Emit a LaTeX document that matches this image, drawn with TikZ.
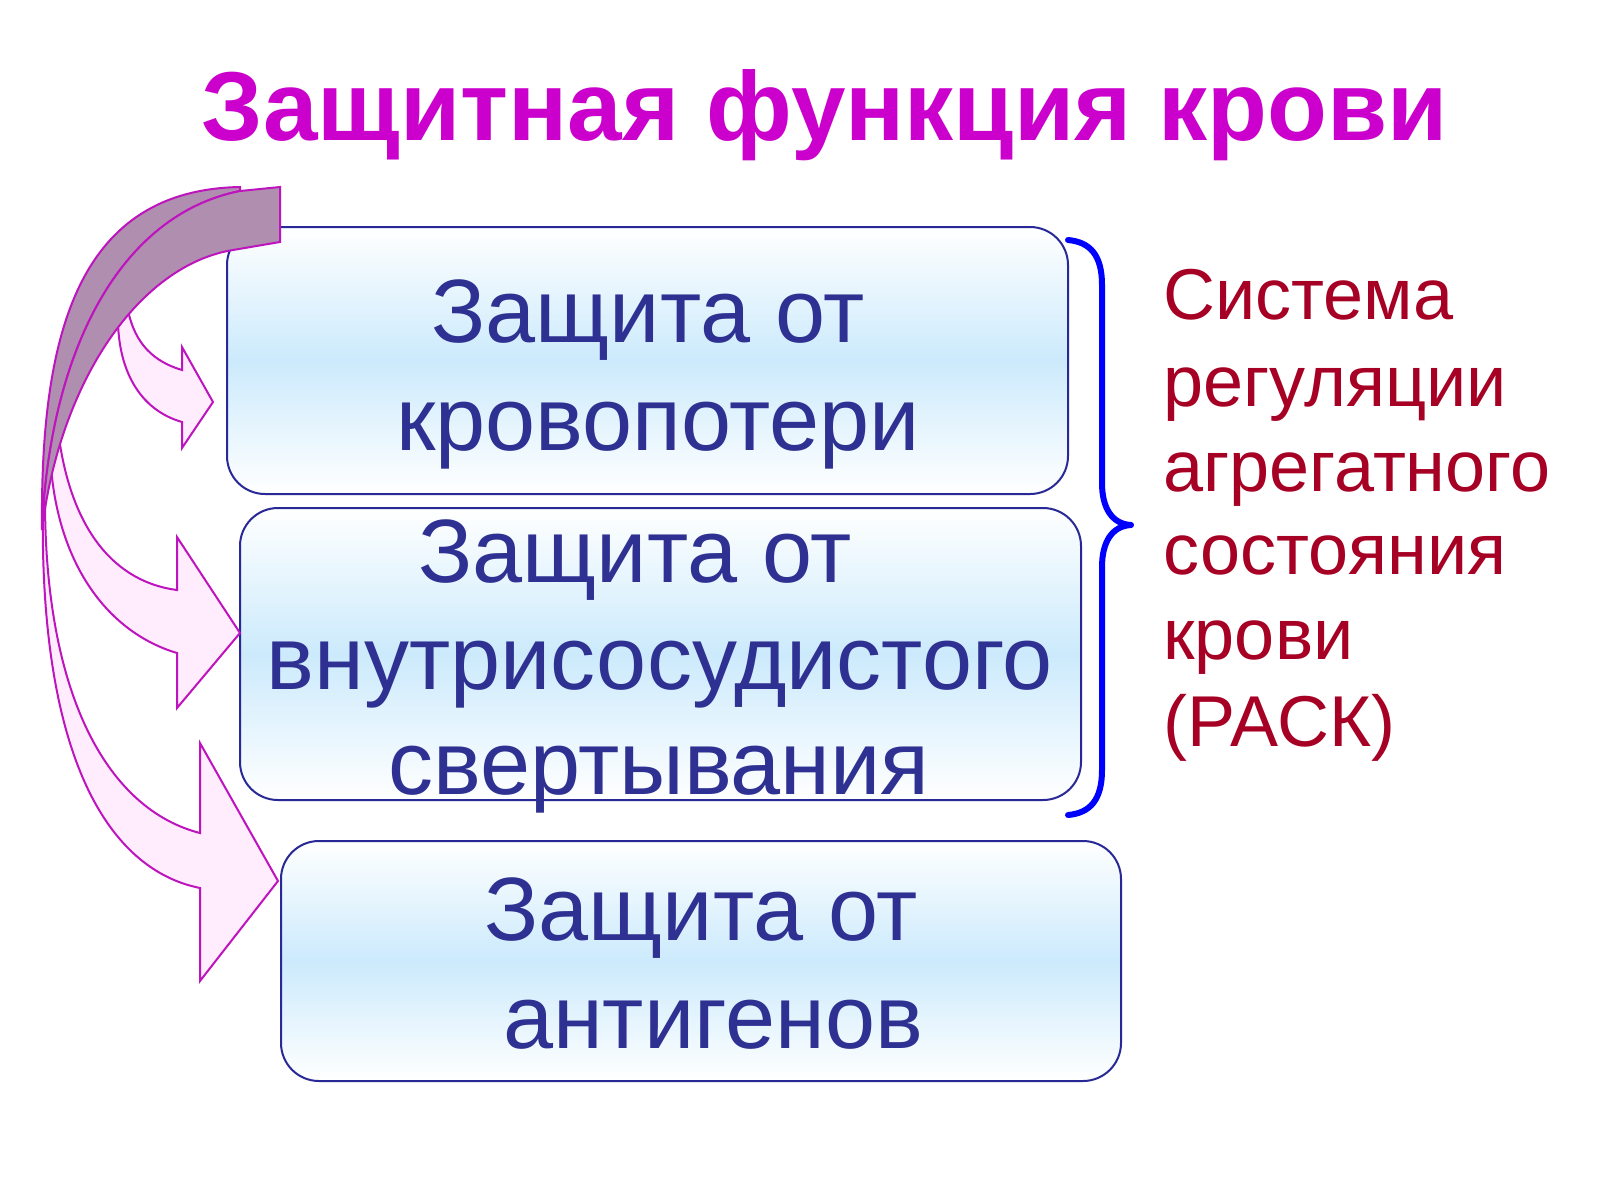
\documentclass[tikz,border=0pt]{standalone}
\usepackage{fontspec}
\setmainfont{Liberation Sans}
\definecolor{titlemag}{RGB}{204,0,204}
\definecolor{boxtext}{RGB}{46,49,146}
\definecolor{boxline}{RGB}{40,40,150}
\definecolor{boxblue}{RGB}{204,234,252}
\definecolor{sidered}{RGB}{166,0,36}
\definecolor{bracecol}{RGB}{0,0,255}
\definecolor{arrline}{RGB}{190,20,190}
\definecolor{arrpink}{RGB}{255,236,252}
\definecolor{arrgray}{RGB}{176,142,176}
\begin{document}
\begin{tikzpicture}[x=0.5pt,y=-0.5pt,
  box/.style={draw=boxline, line width=1pt, rounded corners=19pt,
    top color=white, bottom color=white, middle color=boxblue,
    inner sep=0pt},
  boxtxt/.style={anchor=base, inner sep=0pt, text=boxtext, font=\fontsize{45pt}{50pt}\selectfont},
  sidetxt/.style={anchor=base west, inner sep=0pt, text=sidered, font=\fontsize{36pt}{40pt}\selectfont},
  pinkarrow/.style={draw=arrline, fill=arrpink, line width=1pt, line join=miter},
  grayband/.style={draw=arrline, fill=arrgray, line width=1pt, line join=miter}]
\useasboundingbox (0,0) rectangle (1600,1200);
\fill[white] (0,0) rectangle (1600,1200);

% boxes
\node[box, minimum width=420.5pt, minimum height=133.5pt] (b1) at (647.5,360.5) {};
\node[box, minimum width=420.5pt, minimum height=146pt] (b2) at (660.5,654) {};
\node[box, minimum width=420pt, minimum height=120pt] (b3) at (701,961) {};

% box texts
\node[boxtxt] (t11) at (648,342) {Защита от};
\node[boxtxt] (t12) at (658,450) {кровопотери};
\node[boxtxt] (t21) at (635,582) {Защита от};
\node[boxtxt] (t22) at (660,689) {внутрисосудистого};
\node[boxtxt] (t23) at (659,794) {свертывания};
\node[boxtxt] (t31) at (701,940) {Защита от};
\node[boxtxt] (t32) at (713,1048) {антигенов};

% curved arrows, front parts
\filldraw[pinkarrow] (43,500) .. controls (38,760) and (110,870) .. (200,888)
  -- (200,981) -- (278,881) -- (200,743) -- (200,833)
  .. controls (110,810) and (45,700) .. (45,500) -- cycle;
\filldraw[pinkarrow] (58,430) .. controls (70,530) and (115,582) .. (177,590)
  -- (177,537) -- (240,633) -- (177,708) -- (177,653)
  .. controls (100,630) and (50,550) .. (50,440) -- cycle;
\filldraw[pinkarrow] (118,310) .. controls (116,370) and (140,410) .. (182,422)
  -- (182,448) -- (213,402) -- (182,347) -- (182,370)
  .. controls (155,362) and (135,345) .. (128,310) -- cycle;

% curved arrows, back bands
\filldraw[grayband] (240,187) .. controls (80,190) and (40,330) .. (42,530)
  .. controls (50,350) and (120,215) .. (240,191) -- cycle;
\filldraw[grayband] (280,187) -- (240,191) .. controls (120,215) and (50,350) .. (42,530)
  .. controls (60,380) and (140,265) .. (233,250) -- (280,242) -- cycle;

% brace
\coordinate (brtop) at (1068,240);
\coordinate (brtip) at (1131,525);
\coordinate (brbot) at (1068,815);
\draw[bracecol, line width=3pt, line cap=round, line join=round]
  (brtop) .. controls (1090,242) and (1102,255) .. (1102,285) -- (1102,483)
  .. controls (1102,508) and (1112,524) .. (brtip)
  .. controls (1112,526) and (1102,542) .. (1102,567) -- (1102,770)
  .. controls (1102,800) and (1090,813) .. (brbot);

% side text
\node[sidetxt] (s1) at (1163,319) {Система};
\node[sidetxt] (s2) at (1163,406) {регуляции};
\node[sidetxt] (s3) at (1163,491) {агрегатного};
\node[sidetxt] (s4) at (1163,574) {состояния};
\node[sidetxt] (s5) at (1163,659) {крови};
\node[sidetxt] (s6) at (1163,746) {(РАСК)};

% title
\node[anchor=base, inner sep=0pt, text=titlemag, font=\fontsize{49pt}{56pt}\selectfont\bfseries] (title) at (825,140) {Защитная функция крови};
\end{tikzpicture}
\end{document}
